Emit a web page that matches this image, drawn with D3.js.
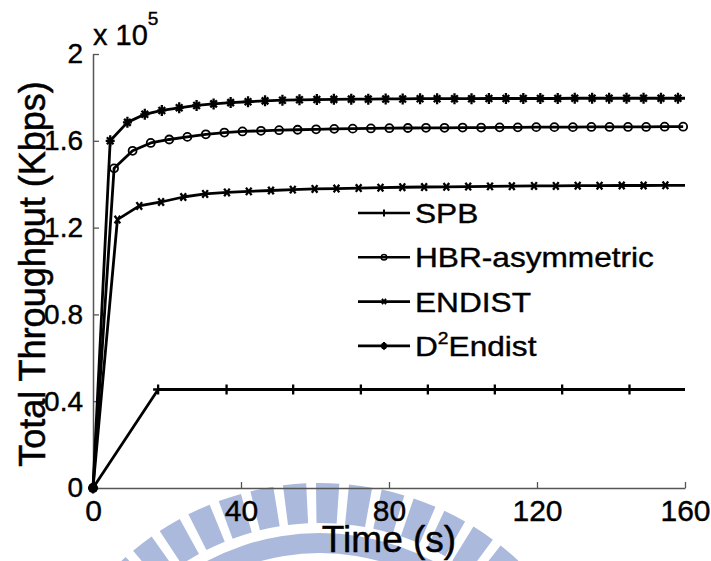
<!DOCTYPE html>
<html>
<head>
<meta charset="utf-8">
<script src="https://cdn.jsdelivr.net/npm/d3@7"></script>
<style>
  body { margin: 0; background: #fff; }
  svg { display: block; font-family: "Liberation Sans", Arial, sans-serif; }
</style>
</head>
<body>
<div id="chart"></div>
<script>
// axis ticks (throughput in units of 10^5 Kbps)
const xTicks = [0, 40, 80, 120, 160];
const yTicks = [0, 0.4, 0.8, 1.2, 1.6, 2];
const yTickLabels = ["0", "0.4", "0.8", "1.2", "1.6", "2"];

// SPB
const spbTime = [0, 17.6, 36.1, 54.1, 72.4, 90.5, 108.6, 126.8, 145.0, 160];
const spbRate = [0, 0.454, 0.454, 0.454, 0.454, 0.454, 0.454, 0.454, 0.454, 0.454];

// HBR-asymmetric
const hbrTime = [0, 5.7, 10.7, 15.6, 20.6, 25.5, 30.5, 35.5, 40.4, 45.4, 50.3, 55.3, 60.3,
    65.2, 70.2, 75.1, 80.1, 85.1, 90.0, 95.0, 99.9, 104.9, 109.9, 114.8, 119.8, 124.7,
    129.7, 134.7, 139.6, 144.6, 149.5, 154.5, 159.5];
const hbrRate = [0, 1.473, 1.554, 1.590, 1.606, 1.618, 1.630, 1.638, 1.643, 1.646, 1.649,
    1.651, 1.653, 1.655, 1.656, 1.657, 1.658, 1.659, 1.660, 1.660, 1.661, 1.661, 1.662,
    1.662, 1.663, 1.663, 1.663, 1.664, 1.664, 1.664, 1.664, 1.665, 1.665];

// ENDIST
const endistTime = [0, 6.6, 12.5, 18.4, 24.4, 30.3, 36.2, 42.1, 48.1, 54.0, 59.9, 65.8,
    71.8, 77.7, 83.6, 89.5, 95.5, 101.4, 107.3, 113.2, 119.2, 125.1, 131.0, 136.9, 142.9,
    148.8, 154.7, 160];
const endistRate = [0, 1.237, 1.300, 1.318, 1.341, 1.355, 1.362, 1.367, 1.371, 1.375, 1.378,
    1.380, 1.382, 1.384, 1.386, 1.387, 1.388, 1.389, 1.390, 1.391, 1.392, 1.392, 1.393,
    1.393, 1.394, 1.394, 1.395, 1.395];

// D2Endist
const d2Time = [0, 4.65, 9.3, 14.0, 18.6, 23.3, 28.0, 32.6, 37.2, 41.9, 46.5, 51.2, 55.8,
    60.5, 65.1, 69.8, 74.4, 79.1, 83.7, 88.4, 93.0, 97.7, 102.3, 107.0, 111.6, 116.3,
    120.9, 125.6, 130.2, 134.9, 139.5, 144.2, 148.8, 153.5, 158.1, 160];
const d2Rate = [0, 1.600, 1.685, 1.722, 1.740, 1.752, 1.763, 1.770, 1.776, 1.780, 1.784,
    1.787, 1.789, 1.790, 1.791, 1.792, 1.792, 1.793, 1.793, 1.794, 1.794, 1.794, 1.794,
    1.795, 1.795, 1.795, 1.795, 1.795, 1.796, 1.796, 1.796, 1.796, 1.796, 1.796, 1.796, 1.796];

const series = [
    { name: "SPB", t: spbTime, v: spbRate, mark: "plus", lastMarked: false },
    { name: "HBR-asymmetric", t: hbrTime, v: hbrRate, mark: "circle", lastMarked: true },
    { name: "ENDIST", t: endistTime, v: endistRate, mark: "cross", lastMarked: false },
    { name: "D2Endist", t: d2Time, v: d2Rate, mark: "star", lastMarked: false }
];

const width = 711, height = 561;

const svg = d3.select("#chart").append("svg")
    .attr("width", width)
    .attr("height", height);

// faint watermark seal at the bottom
function watermark(g) {
    const cx = 320, cy = 775;
    const w = g.append("g").attr("transform", `translate(${cx},${cy})`)
        .attr("fill", "#aab9dc");
    const tooth = d3.arc().innerRadius(252).outerRadius(292);
    d3.range(-70, 71, 6.5).forEach(a => {
        const r = a * Math.PI / 180;
        w.append("path").attr("d", tooth({ startAngle: r - 0.04, endAngle: r + 0.04 }));
    });
    w.append("path").attr("d", d3.arc().innerRadius(222).outerRadius(242)
        ({ startAngle: -1.3, endAngle: 1.3 }));
}
watermark(svg);

const x = d3.scaleLinear().domain([0, 160]).range([93, 685]);
const y = d3.scaleLinear().domain([0, 2]).range([488, 54]);

// axes, ticks point inward like matlab
const xAxis = d3.axisBottom(x).tickValues(xTicks).tickSizeInner(-6).tickSizeOuter(0)
    .tickPadding(12);
const yAxis = d3.axisLeft(y).tickValues(yTicks).tickSizeInner(-6).tickSizeOuter(0)
    .tickPadding(10).tickFormat((d, i) => yTickLabels[i]);

const gx = svg.append("g").attr("transform", `translate(0,${y(0)})`).call(xAxis);
const gy = svg.append("g").attr("transform", `translate(${x(0)},0)`).call(yAxis);

[gx, gy].forEach(g => {
    g.select(".domain").attr("stroke", "#555").attr("stroke-width", 1.5);
    g.selectAll(".tick line").attr("stroke", "#555").attr("stroke-width", 1.3);
    g.selectAll(".tick text").attr("fill", "#000").attr("font-family", null)
        .attr("stroke", "#000").attr("stroke-width", 0.4);
});
gx.selectAll(".tick text").attr("font-size", 30).attr("dy", "0.71em");
gy.selectAll(".tick text").attr("font-size", 28);

// exponent label
const expo = svg.append("text").attr("x", 93).attr("y", 45).attr("font-size", 29)
    .attr("stroke", "#000").attr("stroke-width", 0.4);
expo.append("tspan").text("x 10");
expo.append("tspan").attr("font-size", 19).attr("dy", -20).text("5");

// axis titles
svg.append("text")
    .attr("transform", `translate(45,274) rotate(-90)`)
    .attr("text-anchor", "middle")
    .attr("font-size", 36)
    .attr("stroke", "#000").attr("stroke-width", 0.5)
    .text("Total Throughput (Kbps)");

svg.append("text")
    .attr("x", 389).attr("y", 552)
    .attr("text-anchor", "middle")
    .attr("font-size", 37)
    .attr("stroke", "#000").attr("stroke-width", 0.5)
    .text("Time (s)");

// marker shapes
function markerPath(type, s) {
    if (type === "plus") return `M0,${-5 * s}V${5 * s}M${-5 * s},0H${5 * s}`;
    if (type === "cross") return `M${-2.8 * s},${-3.8 * s}L${2.8 * s},${3.8 * s}M${2.8 * s},${-3.8 * s}L${-2.8 * s},${3.8 * s}`;
    if (type === "star") return `M0,${-5.5 * s}V${5.5 * s}M${-4.5 * s},0H${4.5 * s}` +
        `M${-3.3 * s},${-3.5 * s}L${3.3 * s},${3.5 * s}M${3.3 * s},${-3.5 * s}L${-3.3 * s},${3.5 * s}`;
    return d3.symbol(d3.symbolCircle, Math.PI * (4 * s) ** 2)();
}

const line = d3.line().x(d => x(d[0])).y(d => y(d[1]));

series.forEach(s => {
    const pts = s.t.map((t, i) => [t, s.v[i]]);
    svg.append("path")
        .datum(pts)
        .attr("fill", "none")
        .attr("stroke", "#000")
        .attr("stroke-width", 2.8)
        .attr("stroke-linejoin", "round")
        .attr("d", line);

    const marks = s.lastMarked ? pts : pts.slice(0, -1);
    svg.append("g").selectAll("path")
        .data(marks)
        .enter()
        .append("path")
        .attr("transform", d => `translate(${x(d[0])},${y(d[1])})`)
        .attr("d", markerPath(s.mark, 1))
        .attr("fill", "none")
        .attr("stroke", "#000")
        .attr("stroke-width", s.mark === "circle" ? 1.8 : 2.3);
});

// legend
const legend = svg.append("g").attr("transform", "translate(358,213)");
series.forEach((s, i) => {
    const row = legend.append("g").attr("transform", `translate(0,${i * 44.3})`);
    row.append("line").attr("x1", 0).attr("x2", 52)
        .attr("stroke", "#000").attr("stroke-width", 2.6);
    row.append("path")
        .attr("transform", "translate(26,0)")
        .attr("d", markerPath(s.mark, 0.7))
        .attr("fill", "none").attr("stroke", "#000")
        .attr("stroke-width", s.mark === "circle" ? 1.5 : 2);
    const label = row.append("text")
        .attr("transform", "translate(57,0) scale(1.13,1)")
        .attr("dy", "0.36em").attr("font-size", 28)
        .attr("stroke", "#000").attr("stroke-width", 0.4);
    if (s.name === "D2Endist") {
        label.append("tspan").text("D");
        label.append("tspan").attr("font-size", 17).attr("dy", -12).text("2");
        label.append("tspan").attr("dy", 12).text("Endist");
    } else {
        label.text(s.name);
    }
});
</script>
</body>
</html>
